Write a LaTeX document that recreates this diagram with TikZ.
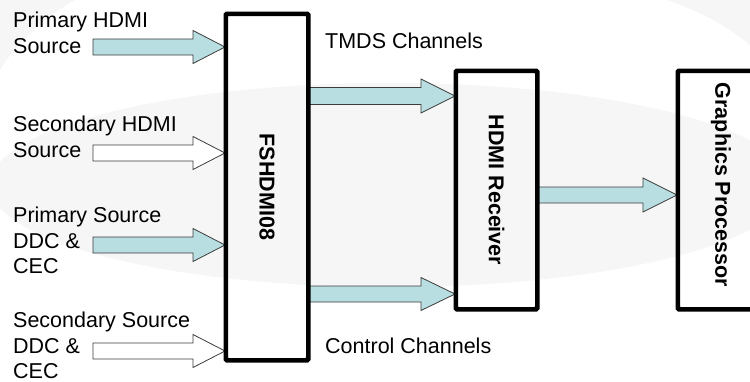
\documentclass[tikz,border=0pt]{standalone}
\usepackage{fontspec}
\setmainfont{Liberation Sans}
\usetikzlibrary{calc}
\definecolor{arrfill}{RGB}{185,222,225}
\definecolor{bgray}{RGB}{246,246,246}
\definecolor{edgegray}{RGB}{60,60,60}
\tikzset{
  box/.style={draw=black, line width=3pt, rounded corners=1.5pt, inner sep=0pt},
  lbl/.style={anchor=base west, inner sep=0pt, font=\fontsize{21.5}{25.5}\selectfont},
  blbl/.style={rotate=-90, inner sep=0pt, font=\fontsize{21.5}{25.5}\selectfont\bfseries},
  fatarr/.style={draw=edgegray, line width=0.8pt, line join=miter},
}
% #1 start coordinate, #2 end coordinate (tip), #3 fill, #4 shaft half width, #5 head half width, #6 head length
\newcommand\fatarrow[6]{%
  \draw[fatarr, fill=#3] let \p1=(#1), \p2=(#2) in
    (\x1,\y2+#4) -- (\x2-#6,\y2+#4) -- (\x2-#6,\y2+#5) -- (\x2,\y2) --
    (\x2-#6,\y2-#5) -- (\x2-#6,\y2-#4) -- (\x1,\y2-#4) -- cycle;}
\begin{document}
\begin{tikzpicture}[x=1pt,y=-1pt]
\useasboundingbox (0,0) rectangle (750,381);
\clip (0,0) rectangle (750,381);
% background
\fill[white] (0,0) rectangle (750,381);
\fill[bgray] (0,0) -- (75,0) .. controls (40,20) and (15,45) .. (0,70) -- cycle;
\fill[bgray] (390,185) ellipse [x radius=400, y radius=102];
\fill[bgray] (750,45) .. controls (720,20) and (690,8) .. (667,0) -- (750,0) -- cycle;

% boxes
\node[box, minimum width=81pt, minimum height=345pt] (fs) at (267,187) {};
\node[blbl] (fslbl) at (fs.center) {FSHDMI08};
\node[box, minimum width=80pt, minimum height=237pt] (rx) at (496.5,190) {};
\node[blbl] (rxlbl) at (rx.center) {HDMI Receiver};
\node[box, minimum width=83pt, minimum height=237pt] (gp) at (720,190) {};
\node[blbl] (gplbl) at (721,185) {Graphics Processor};

% left labels
\node[lbl] (l1a) at (13,27.5) {Primary HDMI};
\node[lbl] (l1b) at (13,53) {Source};
\node[lbl] (l2a) at (13,131) {Secondary HDMI};
\node[lbl] (l2b) at (13,157) {Source};
\node[lbl] (l3a) at (13,222) {Primary Source};
\node[lbl] (l3b) at (13,248) {DDC \&};
\node[lbl] (l3c) at (13,273.5) {CEC};
\node[lbl] (l4a) at (13,327) {Secondary Source};
\node[lbl] (l4b) at (13,353) {DDC \&};
\node[lbl] (l4c) at (13,378) {CEC};
\node[lbl] (tmds) at (325,48) {TMDS Channels};
\node[lbl] (ctrl) at (325,353) {Control Channels};

% arrow start / tip coordinates
\coordinate (s1) at (93,47);   \coordinate (t1) at (fs.west |- s1);
\coordinate (s2) at (93,153);  \coordinate (t2) at (fs.west |- s2);
\coordinate (s3) at (93,245);  \coordinate (t3) at (fs.west |- s3);
\coordinate (s4) at (93,351);  \coordinate (t4) at (fs.west |- s4);
\coordinate (s5) at (fs.east |- 0,96);  \coordinate (t5) at (rx.west |- s5);
\coordinate (s6) at (fs.east |- 0,294); \coordinate (t6) at (rx.west |- s6);
\coordinate (s7) at (rx.east |- 0,195); \coordinate (t7) at (gp.west |- s7);

\fatarrow{s1}{t1}{arrfill}{8pt}{16.5pt}{32pt}
\fatarrow{s2}{t2}{white}{8pt}{16.5pt}{32pt}
\fatarrow{s3}{t3}{arrfill}{8pt}{16.5pt}{32pt}
\fatarrow{s4}{t4}{white}{8pt}{16.5pt}{32pt}
\fatarrow{s5}{t5}{arrfill}{8.5pt}{17pt}{34pt}
\fatarrow{s6}{t6}{arrfill}{8pt}{16.5pt}{34pt}
\fatarrow{s7}{t7}{arrfill}{8pt}{17pt}{34pt}

% redraw boxes on top of arrow shafts
\draw[box] (fs.south west) rectangle (fs.north east);
\draw[box] (rx.south west) rectangle (rx.north east);
\draw[box] (gp.south west) rectangle (gp.north east);
\end{tikzpicture}
\end{document}
